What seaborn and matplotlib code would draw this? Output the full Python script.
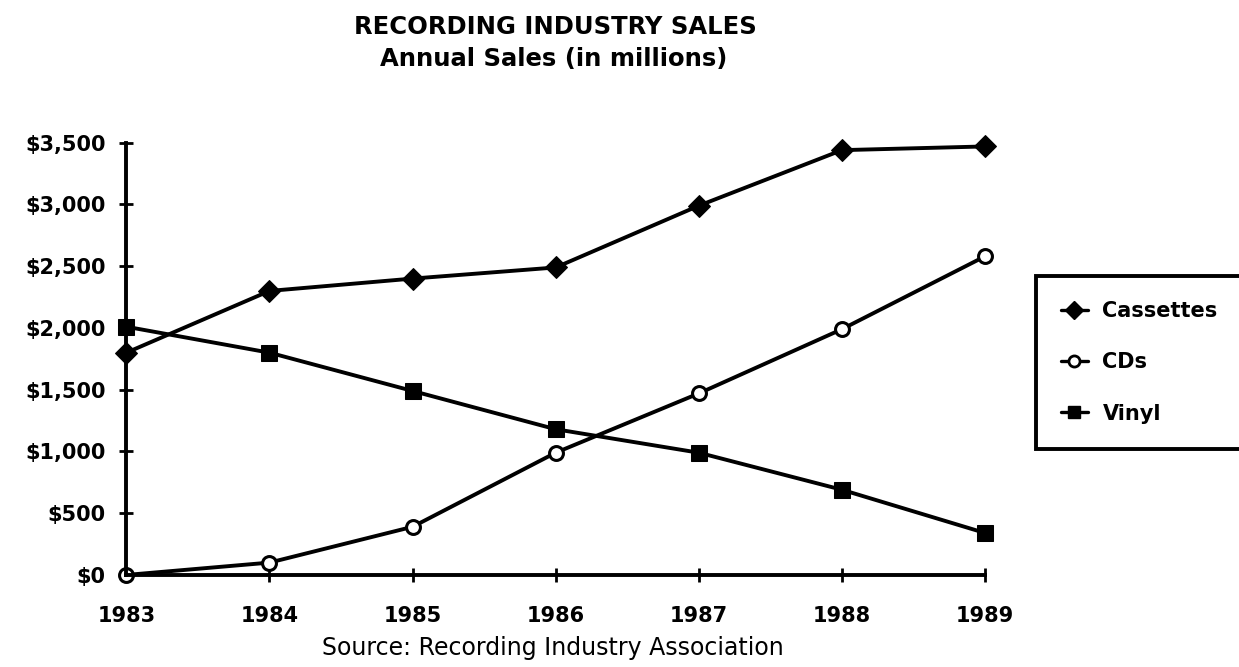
import pandas as pd
import matplotlib.pyplot as plt
import seaborn as sns

# Values (millions of dollars)
years = [1983, 1984, 1985, 1986, 1987, 1988, 1989]
cassettes = [1800, 2300, 2400, 2490, 2990, 3440, 3470]
cds = [0, 100, 390, 990, 1470, 1990, 2580]
vinyl = [2010, 1800, 1490, 1180, 990, 690, 340]
series_names = ["Cassettes", "CDs", "Vinyl"]
y_ticks = [0, 500, 1000, 1500, 2000, 2500, 3000, 3500]

df = pd.DataFrame({
    "Year": years * 3,
    "Sales": cassettes + cds + vinyl,
    "Series": [s for s in series_names for _ in years],
})

sns.set_style("ticks")
plt.rcParams["font.family"] = ["DejaVu Sans"]
plt.rcParams["font.weight"] = "bold"
for key in ["text.color", "axes.edgecolor", "xtick.color", "ytick.color",
            "axes.labelcolor"]:
    plt.rcParams[key] = "black"

fig = plt.figure(figsize=(12.39, 6.67), dpi=100)
ax = fig.add_axes([0.102, 0.138, 0.693, 0.648])

markers = {"Cassettes": "D", "CDs": "o", "Vinyl": "s"}
sns.lineplot(data=df, x="Year", y="Sales", hue="Series", style="Series",
             markers=markers, dashes=False, palette=["black"] * 3,
             linewidth=2.8, markersize=10, ax=ax, legend=False)

# open circles for CDs, sizes per series
for line, name in zip(ax.get_lines(), series_names):
    line.set_clip_on(False)
    line.set_markeredgecolor("black")
    if name == "CDs":
        line.set_markerfacecolor("white")
        line.set_markeredgewidth(2.2)
        line.set_markersize(10)
    elif name == "Vinyl":
        line.set_markersize(11)
    else:
        line.set_markersize(11.5)

ax.set_xlim(1983, 1989)
ax.set_ylim(0, 3500)
ax.set_xticks(years)
ax.set_xticklabels([str(y) for y in years])
ax.set_yticks(y_ticks)
ax.set_yticklabels([f"${v:,}" for v in y_ticks])
ax.tick_params(axis="both", direction="inout", length=10, width=2,
               labelsize=15)
ax.tick_params(axis="x", pad=17)
ax.tick_params(axis="y", pad=10)
for t in ax.get_xticklabels() + ax.get_yticklabels():
    t.set_fontweight("bold")

sns.despine(ax=ax)
for side in ["left", "bottom"]:
    ax.spines[side].set_linewidth(2.8)
ax.set_xlabel("")
ax.set_ylabel("")

fig.text(0.448, 0.960, "RECORDING INDUSTRY SALES", ha="center", va="center",
         fontsize=17.5, fontweight="bold")
fig.text(0.447, 0.911, "Annual Sales (in millions)", ha="center", va="center",
         fontsize=17.5, fontweight="bold")
fig.text(0.446, 0.028, "Source: Recording Industry Association", ha="center",
         va="center", fontsize=17, fontweight="normal")

handles = [
    plt.Line2D([], [], color="black", lw=2.4, marker="D", markersize=9),
    plt.Line2D([], [], color="black", lw=2.4, marker="o", markersize=8,
               markerfacecolor="white", markeredgewidth=2),
    plt.Line2D([], [], color="black", lw=2.4, marker="s", markersize=9),
]
leg = fig.legend(handles, series_names, loc="upper left",
                 bbox_to_anchor=(0.836, 0.586), borderaxespad=0,
                 frameon=True, fancybox=False, framealpha=1,
                 handlelength=1.3, handletextpad=0.7, labelspacing=1.5,
                 borderpad=1.2, prop={"size": 15, "weight": "bold"})
leg.get_frame().set_edgecolor("black")
leg.get_frame().set_linewidth(2.8)

fig.savefig("out.png", dpi=100, facecolor="white")
